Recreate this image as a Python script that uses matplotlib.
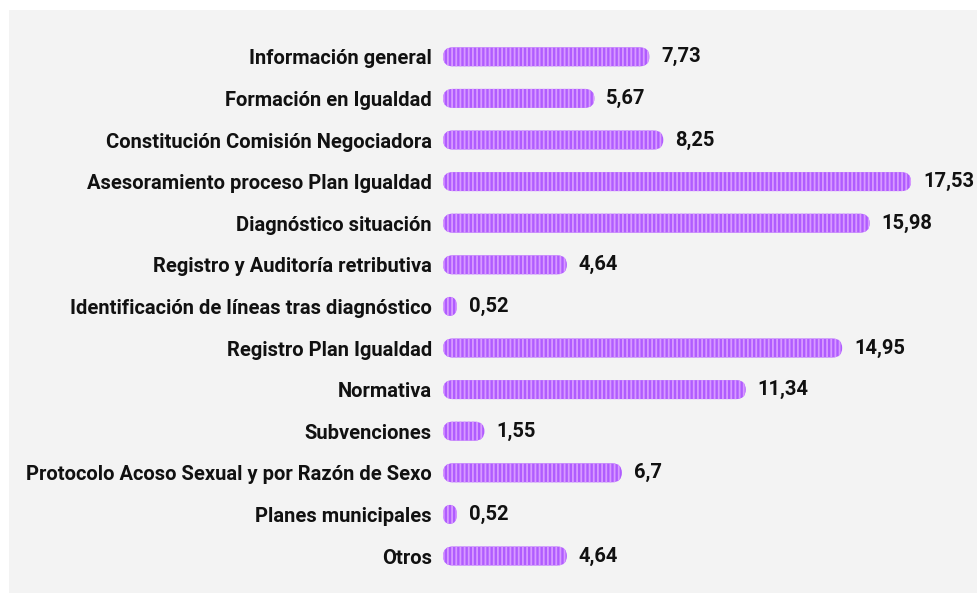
import matplotlib
matplotlib.use('Agg')
import matplotlib.pyplot as plt
from matplotlib.patches import FancyBboxPatch, Rectangle

categories = [
    'Información general',
    'Formación en Igualdad',
    'Constitución Comisión Negociadora',
    'Asesoramiento proceso Plan Igualdad',
    'Diagnóstico situación',
    'Registro y Auditoría retributiva',
    'Identificación de líneas tras diagnóstico',
    'Registro Plan Igualdad',
    'Normativa',
    'Subvenciones',
    'Protocolo Acoso Sexual y por Razón de Sexo',
    'Planes municipales',
    'Otros',
]
values = [7.73, 5.67, 8.25, 17.53, 15.98, 4.64, 0.52, 14.95, 11.34, 1.55, 6.7, 0.52, 4.64]
value_labels = ['7,73', '5,67', '8,25', '17,53', '15,98', '4,64', '0,52',
                '14,95', '11,34', '1,55', '6,7', '0,52', '4,64']

bar_color = '#b05cff'
stripe_color = '#d89aff'
panel_color = '#f3f3f3'
font = ['Roboto', 'DejaVu Sans']

W, H = 977, 593
fig = plt.figure(figsize=(W / 100, H / 100), dpi=100)
fig.patch.set_facecolor('white')
fig.patches.append(Rectangle((9 / W, 0), 1 - 9 / W, 1 - 10 / H,
                             transform=fig.transFigure, facecolor=panel_color,
                             edgecolor='none', zorder=-5))

# axes: x=0 at 443px, 26.7 px per unit; rows every 41.6px
xmax = 20
ax_left, ax_w = 443, 26.7 * xmax
ax_top, ax_h = 36, 41.6 * len(categories)
ax = fig.add_axes([ax_left / W, 1 - (ax_top + ax_h) / H, ax_w / W, ax_h / H])
ax.set_facecolor('none')
ax.set_xlim(0, xmax)
ax.set_ylim(len(categories) - 0.5, -0.5)
for s in ax.spines.values():
    s.set_visible(False)
ax.set_xticks([])
ax.set_yticks(range(len(categories)))
ax.set_yticklabels(categories, fontsize=14.5, fontweight='bold', family=font,
                   color='#111111')
ax.tick_params(axis='y', length=0, pad=8)

plt.rcParams['hatch.linewidth'] = 1.3
bar_h = 19 / 41.6
bars = ax.barh(range(len(categories)), values, height=bar_h)

# aspect between y and x units so the corners come out round
aspect = (1 / 41.6) / (1 / 26.7)
r = (bar_h / aspect) / 2
for b, lab in zip(bars, value_labels):
    x0, y0 = b.get_x(), b.get_y()
    w, h = b.get_width(), b.get_height()
    b.set_visible(False)
    if w / 2 < r:
        # very short bar -> oval
        rs, asp = w / 2, h / w
    else:
        rs, asp = r, aspect
    p = FancyBboxPatch((x0, y0), w, h,
                       boxstyle='round,pad=0,rounding_size=%f' % rs,
                       mutation_aspect=asp, facecolor=bar_color,
                       edgecolor=stripe_color, linewidth=0, hatch='||||')
    ax.add_patch(p)
    ax.text(x0 + w + 0.45, y0 + h / 2, lab, ha='left', va='center',
            fontsize=14.5, fontweight='bold', family=font, color='#111111')

fig.savefig('out.png', dpi=100)
